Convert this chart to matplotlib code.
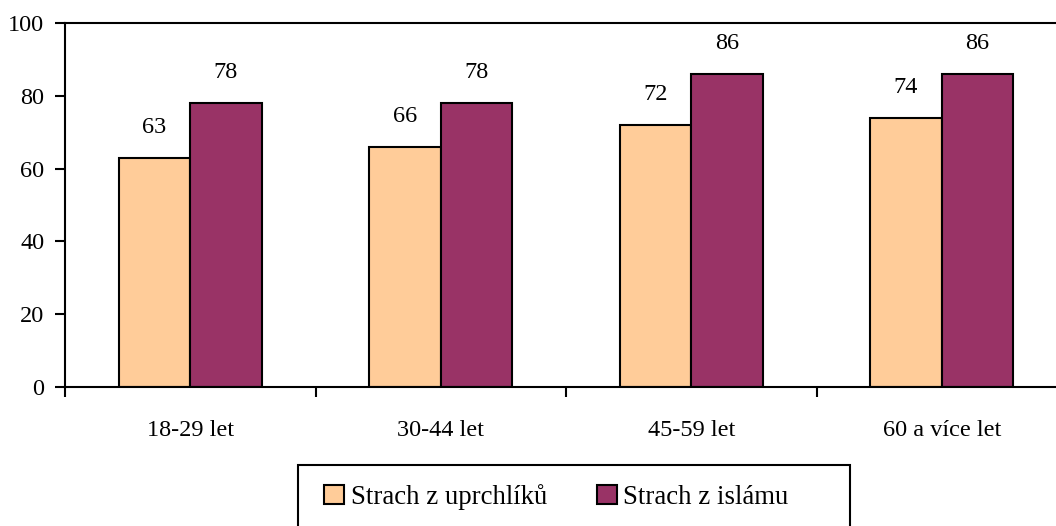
import numpy as np
import matplotlib.pyplot as plt
from matplotlib.patches import Patch, Rectangle

# Data
groups = ["18-29 let", "30-44 let", "45-59 let", "60 a více let"]
uprchlici = [63, 66, 72, 74]
islam = [78, 78, 86, 86]
series_names = ["Strach z uprchlíků", "Strach z islámu"]
colors = ["#FFCC99", "#993366"]

plt.rcParams['font.family'] = ['Liberation Serif', 'DejaVu Serif']
plt.rcParams['font.size'] = 17.5

fig = plt.figure(figsize=(10.56, 5.26), dpi=100)
ax = fig.add_axes([65/1056, 139/526, 1002/1056, 364/526])

x = np.arange(len(groups))
w = 0.285
for vals, off, col in zip([uprchlici, islam], [-w/2, w/2], colors):
    bars = ax.bar(x + off, vals, width=w, color=col, edgecolor="black", linewidth=1.5)
    for b, v in zip(bars, vals):
        ax.text(b.get_x() + b.get_width()/2, v + 5.5, str(v), ha="center", va="bottom")

ax.set_xlim(-0.5, len(groups) - 0.5)
ax.set_ylim(0, 100)
ax.set_yticks(range(0, 101, 20))
ax.set_xticks(x)
ax.set_xticklabels(groups)
ax.set_xticks(np.arange(-0.5, len(groups)), minor=True)
ax.tick_params(axis="x", which="major", length=0, pad=24)
ax.tick_params(axis="x", which="minor", length=7, width=1.5, direction="out")
ax.tick_params(axis="y", length=7, width=1.5, direction="out", pad=8)

for s in ["left", "bottom", "top", "right"]:
    ax.spines[s].set_linewidth(1.5)

# legend: Excel-style box, wider than its contents
handles = [Patch(facecolor=c, edgecolor="black", linewidth=1.5) for c in colors]
leg = fig.legend(handles, series_names, loc="center left", bbox_to_anchor=(324/1056, 1 - 497/526),
                 ncol=2, frameon=False, fontsize=19.3,
                 handlelength=0.75, handleheight=0.75, handletextpad=0.25, columnspacing=1.85,
                 borderpad=0, borderaxespad=0)
fig.patches.append(Rectangle((298/1056, -0.05), 552/1056, 0.05 + 61/526, transform=fig.transFigure,
                             fill=False, edgecolor="black", linewidth=1.5))

fig.savefig("out.png", dpi=100)
